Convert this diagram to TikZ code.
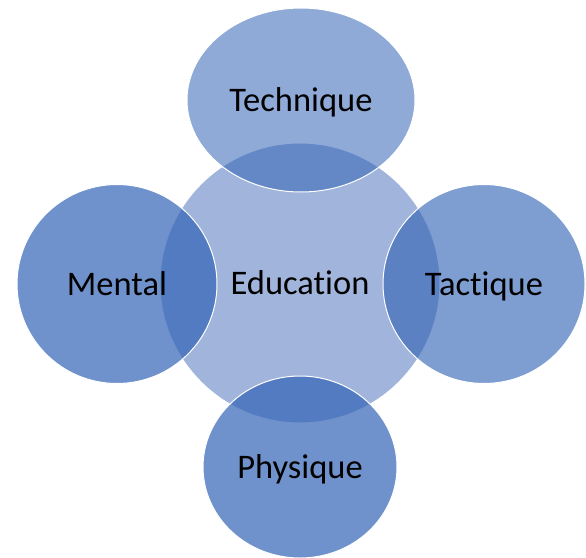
\documentclass[tikz,border=0pt]{standalone}
\usepackage{fontspec}
\setmainfont[Ligatures={NoCommon,NoRequired,NoContextual}]{Carlito}
\usetikzlibrary{shapes.geometric}
\definecolor{edublue}{RGB}{161,180,219}
\definecolor{ringblue}{RGB}{51,100,182}

\begin{document}
\begin{tikzpicture}[x=1pt,y=-1pt,
        blob/.style={ellipse,draw=white,line width=1pt,inner sep=0pt,
            text=black,text opacity=1,text height=22pt,text depth=0pt,
            font=\fontsize{34.5}{40}\selectfont},
        ring/.style={blob,fill=ringblue,fill opacity=#1}]
            \useasboundingbox (0,0) rectangle (586,557);

            \node[blob,fill=edublue,minimum width=280pt,minimum height=280pt] (edu) at (300,283) {Education};

            \node[ring=0.55,minimum width=228pt,minimum height=184pt] (tech) at (301,100) {Technique};
            \node[ring=0.70,minimum width=200pt,minimum height=199pt] (mental) at (117,284) {Mental};
            \node[ring=0.63,minimum width=202pt,minimum height=199pt] (tact) at (484,284) {Tactique};
            \node[ring=0.70,minimum width=194pt,minimum height=182pt] (phys) at (300,467) {Physique};
        \end{tikzpicture}
\end{document}
